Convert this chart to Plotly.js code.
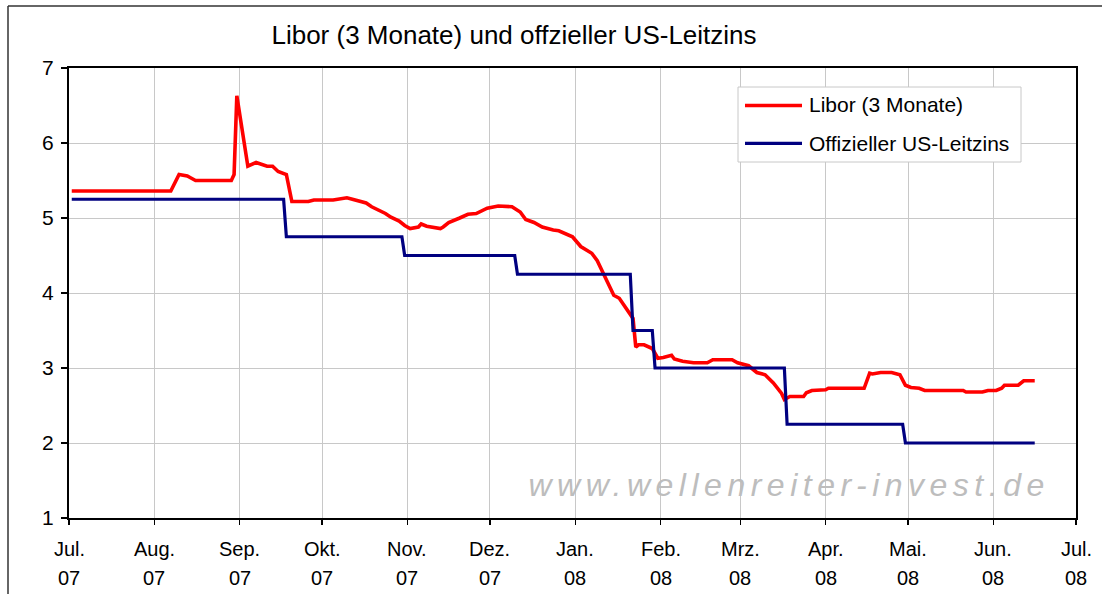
<!DOCTYPE html>
<html>
<head>
<meta charset="utf-8">
<script src="https://cdn.plot.ly/plotly-3.0.1.min.js"></script>
<style>html,body{margin:0;padding:0;background:#fff;}#chart{width:1102px;height:594px;}</style>
</head>
<body>
<div id="chart"></div>
<script>
// ---- data ----
const seriesNames = ['Libor (3 Monate)', 'Offizieller US-Leitzins'];

const liborDates = ['2007-07-02','2007-08-07','2007-08-10','2007-08-13','2007-08-14','2007-08-16','2007-08-29','2007-08-30','2007-08-31','2007-09-04',
'2007-09-07','2007-09-11','2007-09-13','2007-09-15','2007-09-18','2007-09-20','2007-09-26','2007-09-28','2007-10-05','2007-10-08',
'2007-10-10','2007-10-12','2007-10-17','2007-10-19','2007-10-24','2007-10-26','2007-10-29','2007-10-31','2007-11-02','2007-11-05',
'2007-11-06','2007-11-08','2007-11-13','2007-11-14','2007-11-16','2007-11-20','2007-11-23','2007-11-26','2007-11-30','2007-12-04',
'2007-12-09','2007-12-12','2007-12-14','2007-12-17','2007-12-20','2007-12-24','2007-12-26','2007-12-31','2008-01-03','2008-01-07',
'2008-01-09','2008-01-12','2008-01-15','2008-01-17','2008-01-20','2008-01-22','2008-01-23','2008-01-24','2008-01-26','2008-01-29',
'2008-01-31','2008-02-02','2008-02-05','2008-02-06','2008-02-09','2008-02-13','2008-02-18','2008-02-20','2008-02-27','2008-02-29',
'2008-03-04','2008-03-07','2008-03-10','2008-03-13','2008-03-16','2008-03-17','2008-03-19','2008-03-24','2008-03-25','2008-03-27',
'2008-04-01','2008-04-02','2008-04-15','2008-04-17','2008-04-18','2008-04-21','2008-04-25','2008-04-28','2008-04-30','2008-05-02',
'2008-05-05','2008-05-07','2008-05-21','2008-05-22','2008-05-28','2008-05-30','2008-06-02','2008-06-04','2008-06-05','2008-06-10',
'2008-06-12','2008-06-16'];

const liborValues = [5.36,5.36,5.58,5.56,5.54,5.50,5.50,5.58,6.63,5.69,
5.74,5.69,5.69,5.62,5.58,5.22,5.22,5.24,5.24,5.26,
5.27,5.25,5.20,5.15,5.06,5.01,4.96,4.90,4.86,4.88,
4.92,4.89,4.86,4.88,4.94,5.00,5.05,5.06,5.13,5.16,
5.15,5.08,4.98,4.94,4.88,4.84,4.83,4.75,4.62,4.53,
4.43,4.20,3.97,3.93,3.77,3.66,3.28,3.31,3.31,3.26,
3.13,3.14,3.17,3.12,3.09,3.07,3.07,3.11,3.11,3.07,
3.03,2.94,2.91,2.80,2.66,2.58,2.62,2.62,2.67,2.70,
2.71,2.73,2.73,2.93,2.92,2.94,2.94,2.91,2.77,2.74,
2.73,2.70,2.70,2.68,2.68,2.70,2.70,2.73,2.77,2.77,
2.83,2.83];

const fedDates = ['2007-07-02','2007-09-17','2007-09-18','2007-10-30','2007-10-31','2007-12-10','2007-12-11','2008-01-21',
'2008-01-22','2008-01-29','2008-01-30','2008-03-17','2008-03-18','2008-04-29','2008-04-30','2008-06-16'];
const fedValues = [5.25,5.25,4.75,4.75,4.50,4.50,4.25,4.25,3.50,3.50,3.00,3.00,2.25,2.25,2.00,2.00];

const monthTicks = ['2007-07-01','2007-08-01','2007-09-01','2007-10-01','2007-11-01','2007-12-01','2008-01-01',
'2008-02-01','2008-03-01','2008-04-01','2008-05-01','2008-06-01','2008-07-01'];
const monthNames = ['Jul.','Aug.','Sep.','Okt.','Nov.','Dez.','Jan.','Feb.','Mrz.','Apr.','Mai.','Jun.','Jul.'];
const yearLabels = ['07','07','07','07','07','07','08','08','08','08','08','08','08'];

const titleText = 'Libor (3 Monate) und offzieller US-Leitzins';
const watermarkText = 'www.wellenreiter-invest.de';

// ---- layout helpers ----
const L = 69, R = 1076, T = 68, B = 518;
const px = x => (x - L) / (R - L);
const py = y => (B - y) / (B - T);
const FONT = 'Liberation Sans, Arial, sans-serif';

const traces = [
  {x: liborDates, y: liborValues, name: seriesNames[0], type: 'scatter', mode: 'lines',
   line: {color: '#ff0000', width: 3.6}, showlegend: false, hoverinfo: 'x+y'},
  {x: fedDates, y: fedValues, name: seriesNames[1], type: 'scatter', mode: 'lines',
   line: {color: '#000080', width: 3.2}, showlegend: false, hoverinfo: 'x+y'}
];

const annotations = [];
monthTicks.forEach((d, i) => {
  annotations.push({x: d, xref: 'x', y: py(549), yref: 'paper', text: monthNames[i], showarrow: false,
    xanchor: 'center', yanchor: 'middle', font: {family: FONT, size: 20, color: '#000'}});
  annotations.push({x: d, xref: 'x', y: py(578), yref: 'paper', text: yearLabels[i], showarrow: false,
    xanchor: 'center', yanchor: 'middle', font: {family: FONT, size: 20, color: '#000'}});
});
// legend texts
annotations.push({x: px(807), xref: 'paper', y: py(105), yref: 'paper', text: seriesNames[0], showarrow: false,
  xanchor: 'left', yanchor: 'middle', font: {family: FONT, size: 21, color: '#000'}});
annotations.push({x: px(807), xref: 'paper', y: py(143), yref: 'paper', text: seriesNames[1], showarrow: false,
  xanchor: 'left', yanchor: 'middle', font: {family: FONT, size: 21, color: '#000'}});
// watermark
annotations.push({x: px(789), xref: 'paper', y: py(485), yref: 'paper', text: watermarkText, showarrow: false,
  xanchor: 'center', yanchor: 'middle', font: {family: FONT, size: 32, color: '#bdbdbd', style: 'italic'}});

const shapes = [
  // outer frame (left and top)
  {type: 'line', xref: 'paper', yref: 'paper', x0: px(8), x1: px(8), y0: py(6), y1: py(640), line: {color: '#333', width: 1.5}},
  {type: 'line', xref: 'paper', yref: 'paper', x0: px(8), x1: px(1140), y0: py(6), y1: py(6), line: {color: '#333', width: 1.5}},
  // legend box
  {type: 'rect', xref: 'paper', yref: 'paper', x0: px(738), x1: px(1021), y0: py(162), y1: py(87),
   fillcolor: '#fff', line: {color: '#c8c8c8', width: 1}},
  {type: 'line', xref: 'paper', yref: 'paper', x0: px(745), x1: px(802), y0: py(105.5), y1: py(105.5), line: {color: '#ff0000', width: 3.6}},
  {type: 'line', xref: 'paper', yref: 'paper', x0: px(745), x1: px(802), y0: py(143.3), y1: py(143.3), line: {color: '#000080', width: 3.2}}
];

const layout = {
  width: 1102, height: 594,
  margin: {l: L, r: 1102 - R, t: T, b: 594 - B, pad: 0},
  paper_bgcolor: '#fff', plot_bgcolor: '#fff',
  font: {family: FONT, size: 21, color: '#000'},
  showlegend: false,
  title: {text: titleText, xref: 'container', x: 514 / 1102, xanchor: 'center',
          yref: 'container', y: 1 - 35 / 594, yanchor: 'middle',
          font: {family: FONT, size: 26, color: '#000'}},
  xaxis: {type: 'date', range: [monthTicks[0], monthTicks[monthTicks.length - 1]],
          tickmode: 'array', tickvals: monthTicks, showticklabels: false,
          ticks: 'outside', ticklen: 5, tickwidth: 1.5, tickcolor: '#000',
          showgrid: true, gridcolor: '#c8c8c8', gridwidth: 1,
          showline: true, linecolor: '#000', linewidth: 2, mirror: true, zeroline: false, fixedrange: true},
  yaxis: {range: [1, 7], tickmode: 'linear', tick0: 1, dtick: 1,
          ticks: 'outside', ticklen: 6, tickwidth: 1.5, tickcolor: '#000', ticklabelstandoff: 3,
          tickfont: {family: FONT, size: 21, color: '#000'},
          showgrid: true, gridcolor: '#c8c8c8', gridwidth: 1,
          showline: true, linecolor: '#000', linewidth: 2, mirror: true, zeroline: false, fixedrange: true},
  annotations: annotations,
  shapes: shapes
};

Plotly.newPlot('chart', traces, layout, {staticPlot: true, displayModeBar: false}).then(gd => {
  gd.querySelectorAll('text.annotation-text').forEach(t => {
    if (t.textContent === watermarkText) t.setAttribute('letter-spacing', '5.5px');
  });
});
</script>
</body>
</html>
